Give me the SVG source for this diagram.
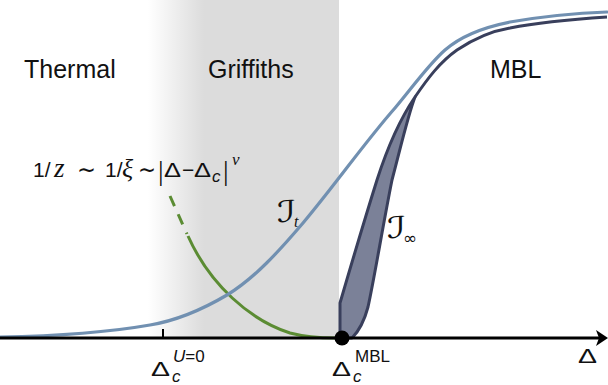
<svg xmlns="http://www.w3.org/2000/svg" width="608" height="385" viewBox="0 0 608 385">
<style>
.lbl{font-family:"Liberation Sans",Arial,sans-serif;font-size:25px;fill:#111}
.sans{font-family:"Liberation Sans",Arial,sans-serif;fill:#111}
.dv{font-family:"DejaVu Sans",sans-serif;fill:#111}
.ser{font-family:"Liberation Serif","Times New Roman",serif;font-style:italic;fill:#111}
.scr{font-family:"DejaVu Serif","DejaVu Sans",serif;fill:#111}
.bar{font-family:"Liberation Serif","Times New Roman",serif;fill:#111}
.it{font-style:italic}
.blue{fill:none;stroke:#7190b1;stroke-width:3.2;stroke-linecap:round}
.dark{stroke:#393f5c;stroke-width:3;stroke-linejoin:round}
.green{fill:none;stroke:#5b8c33;stroke-width:3}
</style>
<defs>
<linearGradient id="gfade" x1="148" y1="0" x2="204" y2="0" gradientUnits="userSpaceOnUse">
<stop offset="0" stop-color="#dcdcdc" stop-opacity="0"/>
<stop offset="1" stop-color="#dcdcdc" stop-opacity="1"/>
</linearGradient>
</defs>
<rect width="608" height="385" fill="#fff"/>
<g id="griffiths-region">
<rect x="148" y="0" width="191" height="338" fill="url(#gfade)"/>
</g>
<g id="region-labels">
<text class="lbl" x="24" y="78">Thermal</text>
<text class="lbl" x="208" y="78">Griffiths</text>
<text class="lbl" x="490" y="78">MBL</text>
</g>
<g id="formula">
<text class="sans" x="33" y="177" font-size="21">1/</text>
<text class="ser" x="54" y="177" font-size="27">z</text>
<text class="dv" x="77" y="178" font-size="25" textLength="19" lengthAdjust="spacingAndGlyphs">∼</text>
<text class="sans" x="105" y="177" font-size="21">1/</text>
<text class="ser" x="122" y="177" font-size="26">ξ</text>
<text class="dv" x="138" y="178" font-size="25" textLength="18" lengthAdjust="spacingAndGlyphs">∼</text>
<text class="bar" x="158" y="180" font-size="28">|</text>
<text class="sans" x="164" y="177" font-size="21" textLength="17" lengthAdjust="spacingAndGlyphs">Δ</text>
<text class="sans" x="182" y="177" font-size="21">−</text>
<text class="sans" x="194" y="177" font-size="21" textLength="17" lengthAdjust="spacingAndGlyphs">Δ</text>
<text class="sans it" x="212" y="182" font-size="17">c</text>
<text class="bar" x="223" y="180" font-size="28">|</text>
<text class="ser" x="232" y="165" font-size="17">ν</text>
</g>
<g id="connectors">
<path class="green" d="M188,236 C210,285 250,320 290,333 C305,337 320,338 336,338"/>
<path class="green" d="M170,196 L187,234" stroke-dasharray="11 9"/>
<path class="blue" d="M0,337 C60,336 110,332 150,325 C180,320 205,308 227,295 C255,278 280,250 303,223 C335,185 365,142 395,108 C412,88 428,65 445,50 C462,35 485,27 510,22 C545,16 580,13 607,12"/>
<path class="dark" fill="#7b8198" d="M340,338 L340,303 C352,262 366,215 377,180 C385,155 398,122 415,97 C408,115 400,150 392,180 C383,225 374,280 368,307 C364,322 358,332 352,338 Z"/>
<path class="dark" fill="none" d="M415,97 C428,78 440,62 457,50 C475,38 492,31 510,28 C530,24 560,20 607,17"/>
</g>
<g id="curve-labels">
<text class="scr" x="277" y="222" font-size="30" textLength="19" lengthAdjust="spacingAndGlyphs">ℐ</text>
<text class="ser" x="294" y="227" font-size="16">t</text>
<text class="scr" x="387" y="238" font-size="30" textLength="19" lengthAdjust="spacingAndGlyphs">ℐ</text>
<text class="dv" x="403" y="244" font-size="17">∞</text>
</g>
<g id="axis">
<line x1="0" y1="338" x2="599" y2="338" stroke="#000" stroke-width="3.2"/>
<path d="M596,330 L608,338 L596,346 L599,338 Z" fill="#000"/>
<line x1="163" y1="329" x2="163" y2="338" stroke="#000" stroke-width="2"/>
<circle cx="342" cy="338" r="7.5" fill="#000"/>
<text class="sans" x="578" y="363" font-size="21" textLength="19" lengthAdjust="spacingAndGlyphs">Δ</text>
</g>
<g id="tick-labels">
<text class="sans" x="151" y="376" font-size="21" textLength="19" lengthAdjust="spacingAndGlyphs">Δ</text>
<text class="sans it" x="172" y="382" font-size="17">c</text>
<text class="sans" x="173" y="362" font-size="17"><tspan class="it">U</tspan>=0</text>
<text class="sans" x="332" y="376" font-size="21" textLength="19" lengthAdjust="spacingAndGlyphs">Δ</text>
<text class="sans it" x="353" y="382" font-size="17">c</text>
<text class="sans" x="355" y="362" font-size="17">MBL</text>
</g>
</svg>
